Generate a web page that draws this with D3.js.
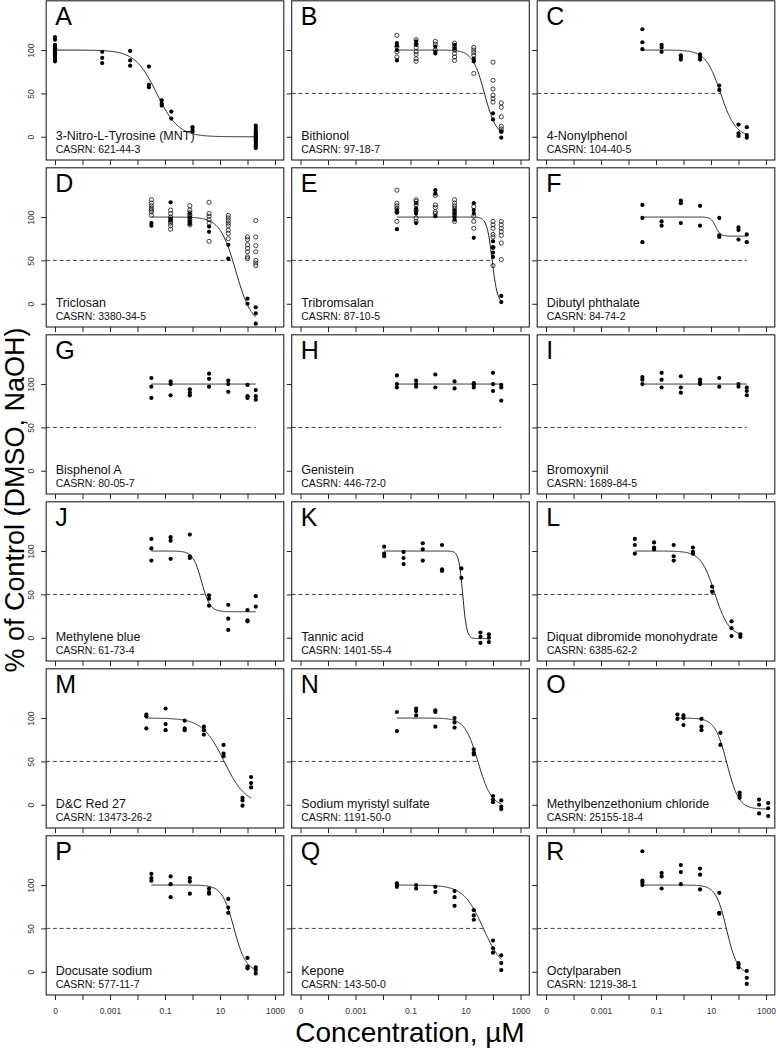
<!DOCTYPE html>
<html><head><meta charset="utf-8">
<script src="https://cdn.jsdelivr.net/npm/d3@7"></script>
<style>
body{margin:0;background:#fff;}
svg{display:block;font-family:"Liberation Sans",Arial,Helvetica,sans-serif;}
</style>
</head><body>
<svg id="chart" width="776" height="1050"></svg>
<script>
// ---------------- DATA ----------------
const letters = ["A","B","C","D","E","F","G","H","I","J","K","L","M","N","O","P","Q","R"];
const compoundNames = ["3-Nitro-L-Tyrosine (MNT)","Bithionol","4-Nonylphenol","Triclosan","Tribromsalan","Dibutyl phthalate",
  "Bisphenol A","Genistein","Bromoxynil","Methylene blue","Tannic acid","Diquat dibromide monohydrate",
  "D&C Red 27","Sodium myristyl sulfate","Methylbenzethonium chloride","Docusate sodium","Kepone","Octylparaben"];
const casNumbers = ["621-44-3","97-18-7","104-40-5","3380-34-5","87-10-5","84-74-2","80-05-7","446-72-0","1689-84-5",
  "61-73-4","1401-55-4","6385-62-2","13473-26-2","1191-50-0","25155-18-4","577-11-7","143-50-0","1219-38-1"];

// concentrations in µM (0 = vehicle control, drawn at the "0" tick)
const stdConc = [0.032, 0.16, 0.8, 4, 20, 100, 200];
const concentrations = [
  [0, 0.00052, 0.0054, 0.026, 0.076, 0.17, 1.0, 200],
  stdConc, stdConc, stdConc, stdConc, stdConc, stdConc, stdConc, stdConc, stdConc,
  [0.011, 0.056, 0.28, 1.4, 7.1, 35, 71],
  [0.017, 0.085, 0.44, 2.2, 11, 56, 117],
  [0.021, 0.105, 0.52, 2.6, 13.5, 66, 135],
  stdConc,
  [0.6, 1.0, 4.5, 22, 110, 560, 1200],
  stdConc, stdConc, stdConc
];

// responses (% of control), filled symbols, one list per concentration
const filledResp = [
  [[115,112,106,104,102,101,100,99,98,97,96,95,93,91,89,87],[98,91,85],[99,88,82],[81,60,57],[42,38,36],[29,21],[11,8,6],[13,10,7,5,3,1,0,-1,-3,-5,-7,-9,-11,-13]],
  [[108,105,100,88],[110,106],[104,98,96],[106,102],[90,87],[27,20],[6,-1]],
  [[124,109,101],[106,103,98],[94,92,89],[95,92,89],[59,54],[14,4,1],[11,2,-1]],
  [[93,90],[117,98,96],[104,99,95,92],[89,83],[68,52],[6,0],[-4,-11,-23]],
  [[108,105,86],[116,110,106,104,93],[131,127,101],[108,104,100,97],[116,108,104,76],[72,65,59,54],[9,2]],
  [[114,99,71],[95,90],[119,116,93],[113,90],[99,79,77],[88,85,74],[80,71]],
  [[107,97,84],[103,100,87],[94,90,87],[112,106,97],[104,100,91],[99,86,84],[93,86,82]],
  [[110,100,96],[104,100,97],[111,96],[103,95],[101,99,96],[113,100,92],[99,96,81]],
  [[108,105,100],[113,105,96],[109,96,90],[105,102,100],[107,97],[100,97],[96,92,87]],
  [[114,103,89],[116,112,91],[119,94,92],[49,45,37],[38,22,9],[32,20,19],[48,36]],
  [[105,97,94],[99,92,85],[109,102,89],[107,79,77],[80,69],[6,1,-6],[4,0,-5]],
  [[114,107,97],[110,104,102],[107,94,89],[104,99,97],[59,53],[19,11,2],[4,1]],
  [[104,102,88],[111,93,86],[97,88,86],[90,86,81],[69,59,56],[8,5,-1],[32,25,20]],
  [[107,85],[111,108,103],[109,107,90],[100,95,89],[64,60,58],[10,6,3],[5,-2,-5]],
  [[104,99],[103,100,92],[99,90,86],[83,69],[14,11,8],[6,0,-10],[2,-4,-13]],
  [[113,108,105],[110,101,86],[108,104,90],[96,92,90],[84,74,68],[16,6,4],[5,2,-2]],
  [[102,100,98],[100,96],[98,92],[93,86,76],[71,65,60],[36,27,22],[19,10,2]],
  [[139,105,103,100],[114,110,96],[123,115,101],[119,112,95],[91,68,67],[10,8,5],[1,-7,-14]]
];

// responses, open symbols (only panels B, D, E)
const openResp = [
  null,
  [[117,104,98,92],[112,107,103,98,95,90,87],[110,107,100],[108,104,100,96,92,88],[103,100,97,94,73],[86,65,55,48,44,40],[39,34,23,12,9,6]],
  null,
  [[120,116,113,110,108,106,102],[108,104,100,97,95,93,90,86],[113,108,105,102,100,97,94,91],[117,104,101,97,93,72],[102,99,96,93,90,85,81,75],[77,74,68,64,60,54,52],[96,77,67,60,50,47,44]],
  [[131,116,113,110,106,95],[120,118,114,108,99,95],[125,114,111,106,104],[120,116,113,110,106,102,95],[112,101,95,87],[95,91,87,80,77,65,44],[95,91,87,83,79,70,51]],
  null,null,null,null,null,null,null,null,null,null,null,null,null
];

// fitted Hill curve parameters
const fitTop    = [100,100,100,100,100,100,100,100,100,100,100,100,100,100,100,100,100,100];
const fitBottom = [0,0,0,-25,0,78,100,100,100,30,-1,2,0,-2,-5,0,0,-3];
const fitLogEC  = [-1.30,1.69,1.35,1.577,1.97,1.17,0,0,0,0.328,0.9,1.14,1.15,1.46,1.58,1.51,1.65,1.57];
const fitHill   = [1.1,2.0,1.6,1.5,4.5,5,1,1,1,2.8,6,1.7,1.1,1.8,2,2,1.2,2.2];
const showHalfLine = [false,true,true,true,true,true,true,true,true,true,true,true,true,true,true,true,true,true];

const xTickValues = [1e-5,1e-4,1e-3,1e-2,1e-1,1,10,100,1000];
const xTickLabels = ["0","","0.001","","0.1","","10","","1000"];
const yTickValues = [0,50,100];

// ---------------- DRAW ----------------
const svg = d3.select("#chart");
const boxW = 237.6, boxH = 159.2;
const colLeft = c => 46.2 + c * 245.5;
const rowTop = r => 0.8 + r * 167;

const hill = (i, c) => fitBottom[i] + (fitTop[i] - fitBottom[i]) / (1 + Math.pow(10, fitHill[i] * (Math.log10(c) - fitLogEC[i])));

letters.forEach((letter, i) => {
  const col = i % 3, row = Math.floor(i / 3);
  const x0 = colLeft(col), y0 = rowTop(row);
  const x = d3.scaleLog().domain([Math.pow(10, -5.32), Math.pow(10, 3.32)]).range([x0, x0 + boxW]);
  const y = d3.scaleLinear().domain([-26.8, 156.8]).range([y0 + boxH, y0]);
  const xc = c => x(c === 0 ? 1e-5 : c);
  const g = svg.append("g");

  // x axis ticks
  const xa = g.append("g").attr("transform", `translate(0,${y0 + boxH})`)
    .call(d3.axisBottom(x).tickValues(xTickValues).tickSize(5).tickSizeOuter(0).tickPadding(8)
      .tickFormat((d, k) => row === 5 ? xTickLabels[k] : ""));
  xa.select(".domain").remove();
  xa.selectAll("line").attr("stroke", "#222");
  xa.selectAll("text").attr("font-size", 8.5).attr("fill", "#333").attr("font-family", "Liberation Sans, Arial, sans-serif");

  // y axis ticks
  const ya = g.append("g").attr("transform", `translate(${x0},0)`)
    .call(d3.axisLeft(y).tickValues(yTickValues).tickSize(5).tickSizeOuter(0)
      .tickFormat(d => col === 0 ? d : ""));
  ya.select(".domain").remove();
  ya.selectAll("line").attr("stroke", "#222");
  ya.selectAll("text").attr("x", 0).attr("dy", 0).attr("text-anchor", "middle")
    .attr("transform", "translate(-12,0) rotate(-90)")
    .attr("font-size", 8.5).attr("fill", "#333").attr("font-family", "Liberation Sans, Arial, sans-serif");

  // box
  g.append("rect").attr("x", x0).attr("y", y0).attr("width", boxW).attr("height", boxH)
    .attr("fill", "none").attr("stroke", "#222").attr("stroke-width", 1.1);

  const concs = concentrations[i];
  const cFirst = concs[0] === 0 ? 1e-5 : concs[0];
  const cLast = concs[concs.length - 1];

  // 50% reference line up to the IC50
  if (showHalfLine[i]) {
    let cEnd = cLast;
    const lo = fitBottom[i], hi = fitTop[i];
    if (lo < 50 && hi > 50) {
      const q = (hi - lo) / (50 - lo) - 1;
      cEnd = Math.pow(10, fitLogEC[i] + Math.log10(q) / fitHill[i]);
    }
    g.append("line").attr("x1", x0).attr("x2", x(cEnd)).attr("y1", y(50)).attr("y2", y(50))
      .attr("stroke", "#444").attr("stroke-width", 1).attr("stroke-dasharray", "4,2.7");
  }

  // fitted curve
  const lx = d3.scaleLinear().domain([0, 200]).range([Math.log10(cFirst), Math.log10(cLast)]);
  const curvePts = d3.range(201).map(k => Math.pow(10, lx(k)));
  g.append("path").datum(curvePts)
    .attr("d", d3.line().x(c => x(c)).y(c => y(hill(i, c))))
    .attr("fill", "none").attr("stroke", "#222").attr("stroke-width", 1);

  // points
  const filledPts = [];
  filledResp[i].forEach((vals, k) => vals.forEach(v => filledPts.push([concs[k], v])));
  g.selectAll("circle.f").data(filledPts).join("circle").attr("class", "f")
    .attr("cx", d => xc(d[0])).attr("cy", d => y(d[1])).attr("r", 2.1).attr("fill", "#000");
  if (openResp[i]) {
    const openPts = [];
    openResp[i].forEach((vals, k) => vals.forEach(v => openPts.push([concs[k], v])));
    g.selectAll("circle.o").data(openPts).join("circle").attr("class", "o")
      .attr("cx", d => xc(d[0])).attr("cy", d => y(d[1])).attr("r", 2.1)
      .attr("fill", "none").attr("stroke", "#111").attr("stroke-width", 0.8);
  }

  // labels
  g.append("text").attr("x", x0 + 9).attr("y", y(0) - 111.7).attr("font-size", 25).attr("fill", "#000").text(letter);
  g.append("text").attr("x", x0 + 9.5).attr("y", y(0) + 3.5).attr("font-size", 12.5).attr("fill", "#111").text(compoundNames[i]);
  g.append("text").attr("x", x0 + 9.5).attr("y", y(0) + 16.7).attr("font-size", 10.5).attr("fill", "#111").text("CASRN: " + casNumbers[i]);
});

// axis titles
svg.append("text").attr("transform", "translate(24,500) rotate(-90)").attr("text-anchor", "middle")
  .attr("font-size", 27).attr("fill", "#000").text("% of Control (DMSO, NaOH)");
svg.append("text").attr("x", 410).attr("y", 1042).attr("text-anchor", "middle")
  .attr("font-size", 28).attr("fill", "#000").text("Concentration, µM");
</script>
</body></html>
